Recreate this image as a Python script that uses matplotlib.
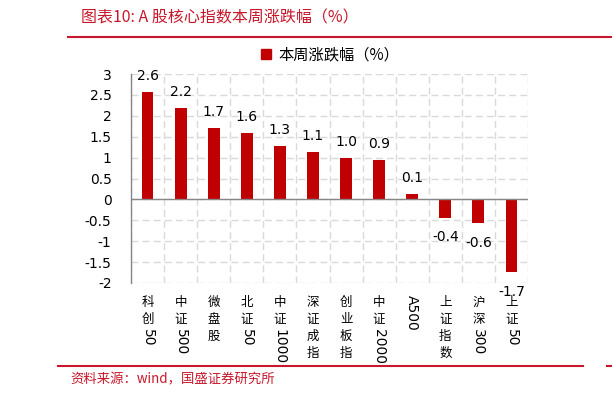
import matplotlib
matplotlib.use("Agg")
import matplotlib.pyplot as plt
from matplotlib.lines import Line2D
import numpy as np

plt.rcParams['font.family'] = ['DejaVu Sans', 'Noto Sans CJK SC']

names = ["科创50", "中证500", "微盘股", "北证50", "中证1000", "深证成指",
         "创业板指", "中证2000", "A500", "上证指数", "沪深300", "上证50"]
values = [2.58, 2.19, 1.71, 1.59, 1.28, 1.13, 0.99, 0.94, 0.12, -0.44, -0.57, -1.74]
yticks = [3, 2.5, 2, 1.5, 1, 0.5, 0, -0.5, -1, -1.5, -2]
ytick_labels = ["3", "2.5", "2", "1.5", "1", "0.5", "0", "-0.5", "-1", "-1.5", "-2"]
series_name = "本周涨跌幅（%）"
title = "图表10: A 股核心指数本周涨跌幅（%）"
source = "资料来源：wind，国盛证券研究所"

bar_color = "#C00000"
red = "#C8172B"
grid_color = "#D9D9D9"
axis_color = "#868686"

W, H = 612, 398
fig = plt.figure(figsize=(W / 100, H / 100), dpi=100)
ax = fig.add_axes([131 / W, 1 - 283 / H, (528 - 131) / W, (283 - 74) / H])

x = np.arange(len(names))
ax.bar(x, values, width=0.36, color=bar_color, zorder=3)

ax.set_xlim(-0.5, len(names) - 0.5)
ax.set_ylim(-2, 3)
ax.set_yticks(yticks)
ax.set_yticklabels(ytick_labels, fontsize=10)
ax.tick_params(axis='y', length=0, pad=14)
ax.set_xticks([])
ax.set_xticks(np.arange(len(names) + 1) - 0.5, minor=True)
ax.tick_params(axis='x', which='minor', length=0)

for s in ['top', 'right', 'bottom']:
    ax.spines[s].set_visible(False)
ax.spines['left'].set_color(axis_color)
ax.spines['left'].set_linewidth(1)

ax.grid(True, axis='y', which='major', color=grid_color, linestyle=(0, (5, 3)), linewidth=1, zorder=0)
ax.grid(True, axis='x', which='minor', color=grid_color, linestyle=(0, (5, 3)), linewidth=1, zorder=0)
ax.axhline(0, color=axis_color, linewidth=1, zorder=4)

# data labels
for xi, v in zip(x, values):
    if v >= 0:
        ax.annotate(f"{v:.1f}", (xi, v), textcoords='offset points', xytext=(0, 6.5),
                    ha='center', va='bottom', fontsize=10, zorder=5)
    else:
        ax.annotate(f"{v:.1f}", (xi, v), textcoords='offset points', xytext=(0, -9),
                    ha='center', va='top', fontsize=10, zorder=5)


# vertical category labels: CJK upright, latin/digits rotated
def vlabel(xi, s, start=13, pitch=17, digit=8.8):
    y = -start
    run = ""
    for ch in s + "\0":
        if ch != "\0" and ch.isascii():
            run += ch
            continue
        if run:
            ax.annotate(run, (xi, 0), xycoords=('data', 'axes fraction'),
                        textcoords='offset pixels', xytext=(0, y + 1),
                        ha='center', va='top', rotation=-90, fontsize=10,
                        annotation_clip=False)
            y -= len(run) * digit + 3
            run = ""
        if ch != "\0":
            ax.annotate(ch, (xi, 0), xycoords=('data', 'axes fraction'),
                        textcoords='offset pixels', xytext=(0, y),
                        ha='center', va='top', fontsize=9,
                        family=['Noto Sans CJK SC'], annotation_clip=False)
            y -= pitch


for xi, n in zip(x, names):
    vlabel(xi, n)

# legend
handle = Line2D([], [], marker='s', linestyle='none', color=bar_color, markersize=6.5)
fig.legend([handle], [series_name], loc='center', bbox_to_anchor=(329 / W, 1 - 55 / H),
           frameon=False, handletextpad=0.3, handlelength=1.0,
           prop={'family': ['Noto Sans CJK SC'], 'size': 11})

# title, source and rules
fig.text(81 / W, 1 - 18 / H, title, color=red, fontsize=11.5, va='center', ha='left',
         style='italic', family=['Noto Sans CJK SC', 'DejaVu Sans'])
fig.text(70 / W, 1 - 379 / H, source, color=red, fontsize=9.6, va='center', ha='left',
         style='italic', family=['Noto Sans CJK SC', 'DejaVu Sans'])
fig.add_artist(Line2D([68 / W, 1], [1 - 37 / H] * 2, color=red, linewidth=1.5))
fig.add_artist(Line2D([58 / W, 583 / W], [1 - 366 / H] * 2, color=red, linewidth=1.5))
fig.add_artist(Line2D([607 / W, 1], [1 - 366 / H] * 2, color=red, linewidth=1.5))

fig.savefig("out.png", dpi=100)
